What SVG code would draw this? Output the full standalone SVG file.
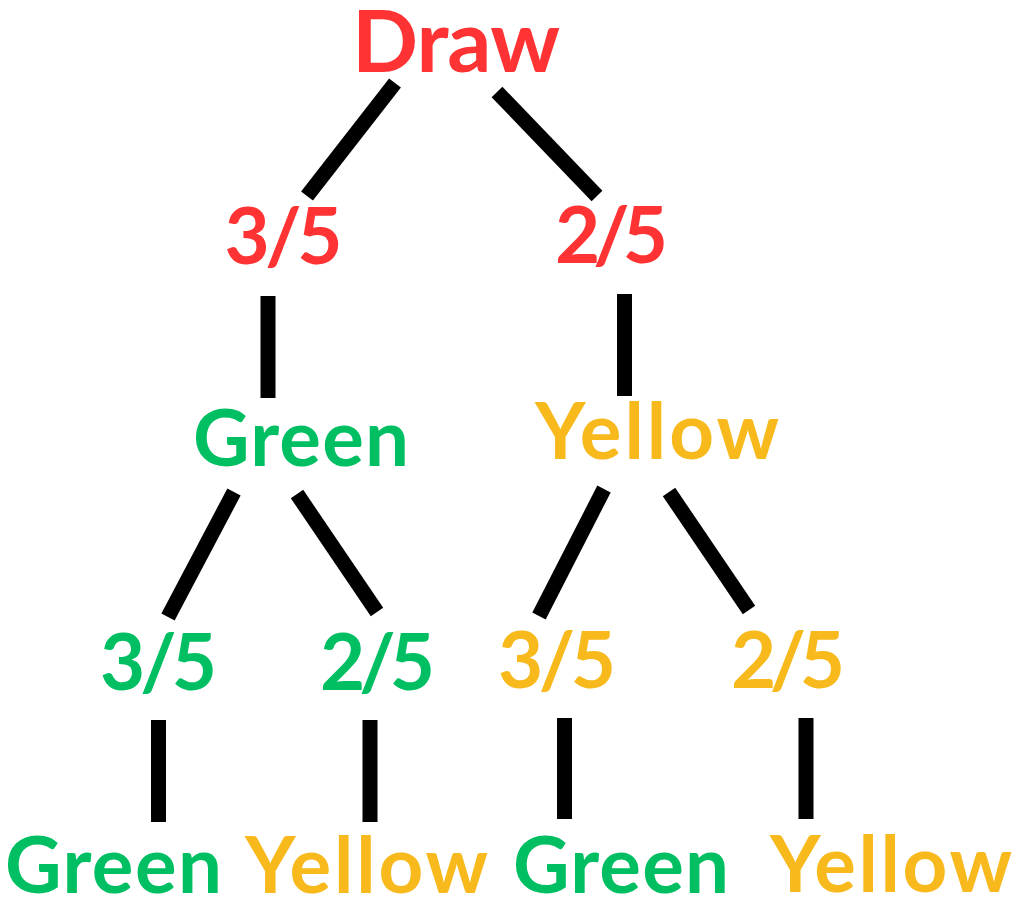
<svg xmlns="http://www.w3.org/2000/svg" width="1024" height="910" viewBox="0 0 1024 910">
<style>
text{font-family:Lato,"Open Sans","Liberation Sans",sans-serif;font-weight:700;text-anchor:middle}
.r{fill:#FF3333}
.g{fill:#00BF63}
.y{fill:#F7B91B}
.lbl{font-size:78px}
.edges line{stroke:#000;stroke-width:15;stroke-linecap:butt}
</style>
<rect width="1024" height="910" fill="#fff"/>
<g class="edges" id="connectors">
<line x1="395" y1="83" x2="307" y2="196"/>
<line x1="497" y1="92" x2="597" y2="196"/>
<line x1="268" y1="296" x2="268" y2="398"/>
<line x1="624.5" y1="294" x2="624.5" y2="396"/>
<line x1="234" y1="492" x2="168" y2="617"/>
<line x1="297" y1="494" x2="377" y2="612"/>
<line x1="604" y1="489" x2="539" y2="616"/>
<line x1="669" y1="492" x2="749" y2="610"/>
<line x1="158.5" y1="720" x2="158.5" y2="822"/>
<line x1="370" y1="720" x2="370" y2="822"/>
<line x1="564.5" y1="718" x2="564.5" y2="819"/>
<line x1="806" y1="718" x2="806" y2="819"/>
</g>
<g id="draw"><text class="r" x="456" y="72" font-size="87" textLength="208">Draw</text></g>
<g id="p-green"><text class="r lbl" x="283.5" y="264" textLength="118">3/5</text></g>
<g id="p-yellow"><text class="r lbl" x="611.5" y="263" textLength="113">2/5</text></g>
<g id="green"><text class="g lbl" x="301" y="466" textLength="216">Green</text></g>
<g id="yellow"><text class="y lbl" x="657" y="459" textLength="244">Yellow</text></g>
<g id="p-gg"><text class="g lbl" x="158.5" y="690" textLength="117">3/5</text></g>
<g id="p-gy"><text class="g lbl" x="377.5" y="690" textLength="115">2/5</text></g>
<g id="p-yg"><text class="y lbl" x="557" y="688" textLength="118">3/5</text></g>
<g id="p-yy"><text class="y lbl" x="788" y="688" textLength="114">2/5</text></g>
<g id="gg"><text class="g lbl" x="113.5" y="893" textLength="217">Green</text></g>
<g id="gy"><text class="y lbl" x="366.5" y="893" textLength="243">Yellow</text></g>
<g id="yg"><text class="g lbl" x="621" y="893" textLength="216">Green</text></g>
<g id="yy"><text class="y lbl" x="891" y="892" textLength="242">Yellow</text></g>
</svg>
